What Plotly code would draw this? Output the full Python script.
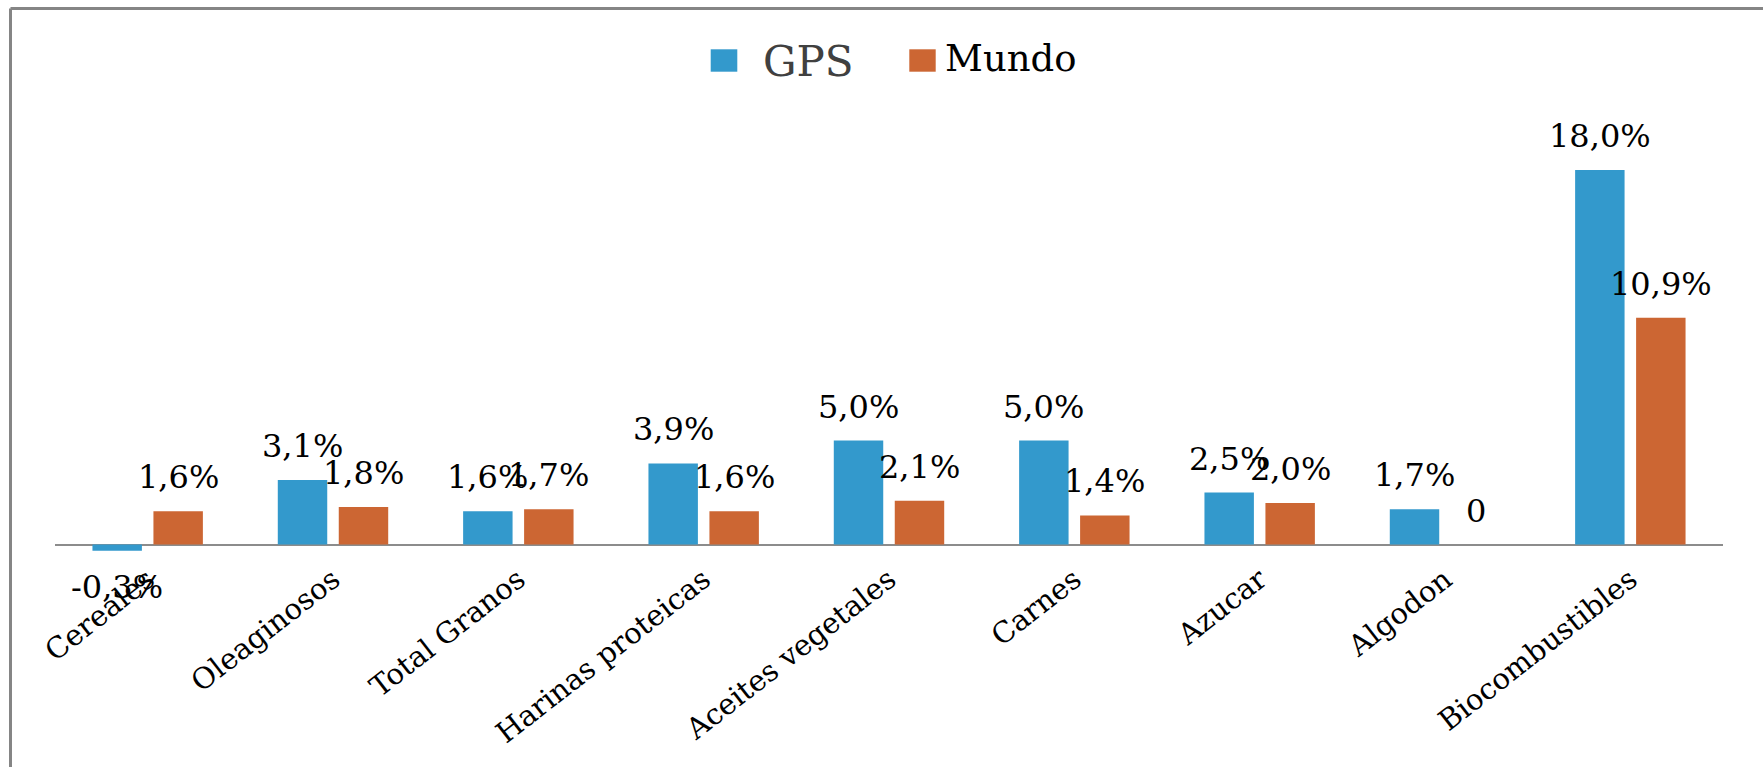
import plotly.graph_objects as go

# ---------------- data ----------------
categories = ["Cereales", "Oleaginosos", "Total Granos", "Harinas proteicas",
              "Aceites vegetales", "Carnes", "Azucar", "Algodon", "Biocombustibles"]
gps = [-0.3, 3.1, 1.6, 3.9, 5.0, 5.0, 2.5, 1.7, 18.0]
mundo = [1.6, 1.8, 1.7, 1.6, 2.1, 1.4, 2.0, 0, 10.9]
gps_labels = ["-0,3%", "3,1%", "1,6%", "3,9%", "5,0%", "5,0%", "2,5%", "1,7%", "18,0%"]
mundo_labels = ["1,6%", "1,8%", "1,7%", "1,6%", "2,1%", "1,4%", "2,0%", "0", "10,9%"]
series_names = ["GPS", "Mundo"]

# ---------------- style ----------------
W, H = 1763, 767
ML, MR, MT, MB = 55, 40, 100, 211
PW = W - ML - MR
PH = H - MT - MB
BLUE = "#3399cc"
ORANGE = "#cc6633"
FONT = "DejaVu Serif"
Y_MAX = 21.37
Y_MIN = -0.553


def px_x(px):
    return (px - ML) / PW


def px_y(py):
    return (H - MB - py) / PH


fig = go.Figure()
fig.add_trace(go.Bar(x=categories, y=gps, name=series_names[0],
                     marker=dict(color=BLUE, line=dict(width=0)), showlegend=False))
fig.add_trace(go.Bar(x=categories, y=mundo, name=series_names[1],
                     marker=dict(color=ORANGE, line=dict(width=0)), showlegend=False))

annotations = []
for vals, labels, shift in ((gps, gps_labels, -30.5), (mundo, mundo_labels, 30.5)):
    for c, v, t in zip(categories, vals, labels):
        if v < 0:
            annotations.append(dict(x=c, y=v, xref="x", yref="y", text=t, showarrow=False,
                                    xshift=shift, yshift=-15, yanchor="top", xanchor="center",
                                    font=dict(family=FONT, size=32, color="#000000")))
        else:
            annotations.append(dict(x=c, y=v, xref="x", yref="y", text=t, showarrow=False,
                                    xshift=shift, yshift=13, yanchor="bottom", xanchor="center",
                                    font=dict(family=FONT, size=32, color="#000000")))

# legend (drawn manually to reproduce large swatches)
annotations.append(dict(x=px_x(761), y=px_y(61), xref="paper", yref="paper", text=series_names[0],
                        showarrow=False, xanchor="left", yanchor="middle",
                        font=dict(family=FONT, size=42, color="#404040")))
annotations.append(dict(x=px_x(943), y=px_y(58.5), xref="paper", yref="paper", text=series_names[1],
                        showarrow=False, xanchor="left", yanchor="middle",
                        font=dict(family=FONT, size=37, color="#000000")))

shapes = [
    dict(type="rect", xref="paper", yref="paper", x0=px_x(710.7), x1=px_x(737.3),
         y0=px_y(71.7), y1=px_y(49.3), fillcolor=BLUE, line=dict(width=0)),
    dict(type="rect", xref="paper", yref="paper", x0=px_x(909.3), x1=px_x(935.7),
         y0=px_y(71.7), y1=px_y(49.3), fillcolor=ORANGE, line=dict(width=0)),
    # outer frame (top and left edges visible)
    dict(type="line", xref="paper", yref="paper", x0=px_x(10.5), x1=px_x(1800),
         y0=px_y(8.5), y1=px_y(8.5), line=dict(color="#858585", width=3)),
    dict(type="line", xref="paper", yref="paper", x0=px_x(10.5), x1=px_x(10.5),
         y0=px_y(800), y1=px_y(8.5), line=dict(color="#858585", width=3)),
]

fig.update_layout(
    width=W, height=H,
    margin=dict(l=ML, r=MR, t=MT, b=MB, pad=0),
    paper_bgcolor="white", plot_bgcolor="white",
    barmode="group", bargap=0.342, bargroupgap=0.189,
    annotations=annotations, shapes=shapes,
    showlegend=False,
    font=dict(family=FONT, color="#000000"),
)
fig.update_xaxes(tickangle=-38, tickfont=dict(family=FONT, size=29, color="#000000"),
                 showgrid=False, showline=False, ticks="", automargin=False)
fig.update_yaxes(range=[Y_MIN, Y_MAX], showticklabels=False, showgrid=False, showline=False,
                 ticks="", zeroline=True, zerolinecolor="#8c8c8c", zerolinewidth=2)

fig.write_html("out.html", config={"displayModeBar": False},
               post_script="document.body.style.margin='0';document.body.style.overflow='hidden';")
